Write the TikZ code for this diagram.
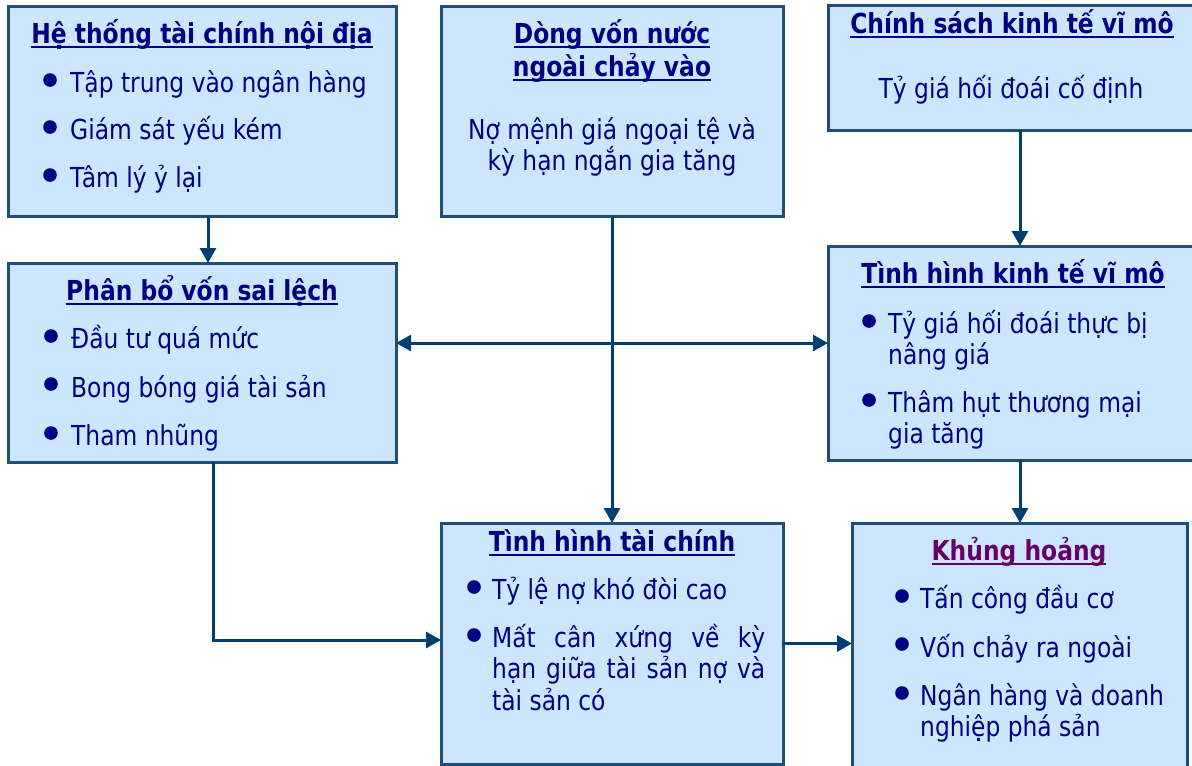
\documentclass[tikz,border=0pt]{standalone}
\usepackage{fontspec}
\setmainfont[FakeStretch=0.85]{DejaVu Sans}
\usetikzlibrary{arrows.meta}
\definecolor{boxfill}{HTML}{CCE6FF}
\definecolor{boxline}{HTML}{1F4E79}
\definecolor{txt}{HTML}{000080}
\definecolor{purp}{HTML}{660066}
\definecolor{arrc}{HTML}{003F72}
\newcommand\myul[1]{\setbox0\hbox{#1}\rlap{\rule[-5.3pt]{\wd0}{2.6pt}}\box0}
\tikzset{
 box/.style={draw=boxline, line width=3pt, fill=boxfill, inner sep=0pt, outer sep=0pt},
 ttl/.style={anchor=base, inner sep=0pt, text=txt, font=\fontsize{27.5}{32}\selectfont\bfseries},
 itm/.style={anchor=base west, inner sep=0pt, text=txt, font=\fontsize{27.5}{32}\selectfont},
 ctr/.style={anchor=base, inner sep=0pt, text=txt, font=\fontsize{27.5}{32}\selectfont},
 conn/.style={draw=arrc, line width=3pt, -{Triangle[length=15pt,width=16pt]}},
 conn2/.style={draw=arrc, line width=3pt, {Triangle[length=15pt,width=16pt]}-{Triangle[length=15pt,width=16pt]}},
}
\newcommand\bul[2]{\fill[txt] (#1,#2) circle (6.8pt);}
\begin{document}
\begin{tikzpicture}[x=1pt,y=-1pt]
\useasboundingbox (0,0) rectangle (1192,766);
\clip (0,0) rectangle (1192,766);
% boxes
\node[box, minimum width=388pt, minimum height=210pt] (A) at (202,111) {};
\node[box, minimum width=342pt, minimum height=210pt] (B) at (612,111) {};
\node[box, minimum width=384pt, minimum height=125pt] (C) at (1020,67.5) {};
\node[box, minimum width=388pt, minimum height=199pt] (D) at (202,362.5) {};
\node[box, minimum width=384pt, minimum height=214pt] (E) at (1020,353) {};
\node[box, minimum width=342pt, minimum height=241pt] (F) at (612,643.5) {};
\node[box, minimum width=335pt, minimum height=267pt] (G) at (1019.5,656.5) {};
% box A
\node[ttl] (tA) at (202,43) {\myul{Hệ thống tài chính nội địa}};
\bul{50}{80}\bul{50}{127}\bul{50}{175}
\node[itm] (a1) at (70,92) {Tập trung vào ngân hàng};
\node[itm] (a2) at (70,139) {Giám sát yếu kém};
\node[itm] (a3) at (70,187) {Tâm lý ỷ lại};
% box B
\node[ttl] (tB1) at (612,43) {\myul{Dòng vốn nước}};
\node[ttl] (tB2) at (612,76) {\myul{ngoài chảy vào}};
\node[ctr] (b1) at (612,139) {Nợ mệnh giá ngoại tệ và};
\node[ctr] (b2) at (612,170) {kỳ hạn ngắn gia tăng};
% box C
\node[ttl] (tC) at (1012,33) {\myul{Chính sách kinh tế vĩ mô}};
\node[ctr] (c1) at (1011,98) {Tỷ giá hối đoái cố định};
% box D
\node[ttl] (tD) at (202,300) {\myul{Phân bổ vốn sai lệch}};
\bul{51}{336}\bul{51}{384}\bul{51}{433}
\node[itm] (d1) at (71,348) {Đầu tư quá mức};
\node[itm] (d2) at (71,397) {Bong bóng giá tài sản};
\node[itm] (d3) at (71,445) {Tham nhũng};
% box E
\node[ttl] (tE) at (1013,283) {\myul{Tình hình kinh tế vĩ mô}};
\bul{869}{321}\bul{869}{400}
\node[itm] (e1) at (888,333) {Tỷ giá hối đoái thực bị};
\node[itm] (e2) at (888,364) {nâng giá};
\node[itm] (e3) at (888,412) {Thâm hụt thương mại};
\node[itm] (e4) at (888,443) {gia tăng};
% box F
\node[ttl] (tF) at (612,551) {\myul{Tình hình tài chính}};
\bul{474}{587}\bul{474}{635}
\node[itm] (f1) at (492,599) {Tỷ lệ nợ khó đòi cao};
\node[itm] (f2) at (492,647) {\makebox[273pt][s]{Mất cân xứng về kỳ}};
\node[itm] (f3) at (492,678) {\makebox[273pt][s]{hạn giữa tài sản nợ và}};
\node[itm] (f4) at (492,710) {tài sản có};
% box G
\node[ttl, text=purp] (tG) at (1019,560) {\myul{Khủng hoảng}};
\bul{902}{596}\bul{902}{644}\bul{902}{693}
\node[itm] (g1) at (920,608) {Tấn công đầu cơ};
\node[itm] (g2) at (920,657) {Vốn chảy ra ngoài};
\node[itm] (g3) at (920,705) {Ngân hàng và doanh};
\node[itm] (g4) at (920,736) {nghiệp phá sản};
% connectors
\coordinate (hrow) at (0,343);
\coordinate (dcorner) at (213,640);
\draw[conn] ([xshift=6pt]A.south) -- ([xshift=6pt]D.north);
\draw[conn] (C.south) -- (E.north);
\draw[conn] (E.south) -- (E.south |- G.north);
\draw[conn] (B.south) -- (F.north);
\draw[conn2] (D.east |- hrow) -- (E.west |- hrow);
\draw[conn] ([xshift=11pt]D.south) |- (F.west |- dcorner);
\draw[conn] (F.east) -- (F.east -| G.west);
\end{tikzpicture}
\end{document}
